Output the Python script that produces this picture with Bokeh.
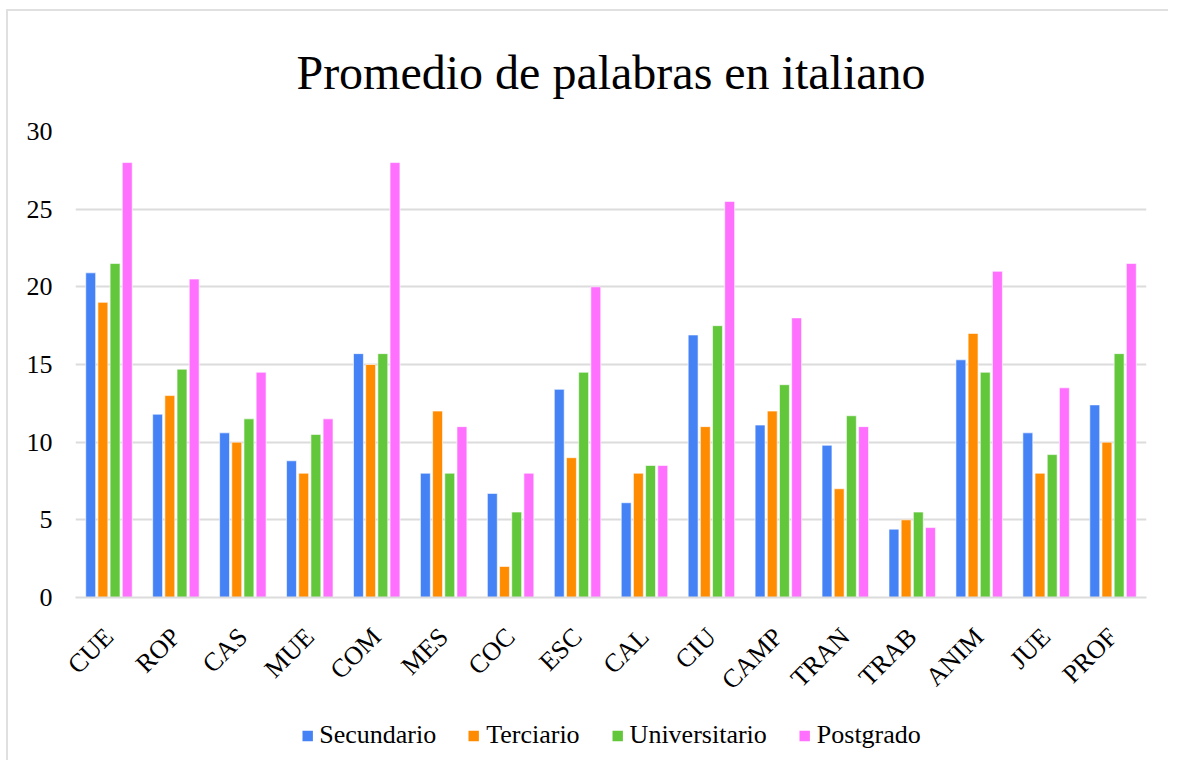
from math import pi
from bokeh.plotting import figure
from bokeh.layouts import column
from bokeh.models import ColumnDataSource, FactorRange, Legend, LegendItem, SingleIntervalTicker
from bokeh.transform import dodge
from bokeh.embed import file_html
from bokeh.resources import INLINE

categories = ["CUE", "ROP", "CAS", "MUE", "COM", "MES", "COC", "ESC", "CAL", "CIU",
              "CAMP", "TRAN", "TRAB", "ANIM", "JUE", "PROF"]
series_names = ["Secundario", "Terciario", "Universitario", "Postgrado"]
secundario = [20.9, 11.8, 10.6, 8.8, 15.7, 8.0, 6.7, 13.4, 6.1, 16.9, 11.1, 9.8, 4.4, 15.3, 10.6, 12.4]
terciario = [19, 13, 10, 8, 15, 12, 2, 9, 8, 11, 12, 7, 5, 17, 8, 10]
universitario = [21.5, 14.7, 11.5, 10.5, 15.7, 8, 5.5, 14.5, 8.5, 17.5, 13.7, 11.7, 5.5, 14.5, 9.2, 15.7]
postgrado = [28, 20.5, 14.5, 11.5, 28, 11, 8, 20, 8.5, 25.5, 18, 11, 4.5, 21, 13.5, 21.5]
colors = ["#4482F6", "#FF8C00", "#63C73C", "#FF70FF"]

source = ColumnDataSource(data=dict(cat=categories, Secundario=secundario, Terciario=terciario,
                                    Universitario=universitario, Postgrado=postgrado))

FONT = "Liberation Serif"

p = figure(x_range=FactorRange(*categories, range_padding=0), y_range=(0, 30),
           frame_width=1071, frame_height=466, output_backend="svg", toolbar_location=None,
           min_border_left=67, min_border_right=22, min_border_top=0, min_border_bottom=113)

p.title.text = "Promedio de palabras en italiano"
p.title.align = "center"
p.title.text_font = FONT
p.title.text_font_size = "48px"
p.title.text_font_style = "normal"
p.title.text_color = "#000000"
p.title.standoff = 65

offsets = [-0.273, -0.091, 0.091, 0.273]
for name, off, col in zip(series_names, offsets, colors):
    p.vbar(x=dodge("cat", off, range=p.x_range), top=name, width=0.148, source=source,
           fill_color=col, line_color="white", line_width=0.6)

p.yaxis.ticker = SingleIntervalTicker(interval=5)
p.yaxis.axis_line_color = None
p.yaxis.major_tick_line_color = None
p.yaxis.minor_tick_line_color = None
p.yaxis.major_label_text_font = FONT
p.yaxis.major_label_text_font_size = "26px"
p.yaxis.major_label_text_color = "#000000"
p.yaxis.major_label_standoff = 17

p.xaxis.axis_line_color = "#dcdcdc"
p.xaxis.axis_line_width = 2
p.xaxis.major_tick_line_color = None
p.xaxis.minor_tick_line_color = None
p.xaxis.major_label_orientation = pi / 4
p.xaxis.major_label_text_font = FONT
p.xaxis.major_label_text_font_size = "26px"
p.xaxis.major_label_text_color = "#000000"
p.xaxis.major_label_standoff = 29

p.xgrid.grid_line_color = None
p.ygrid.grid_line_color = "#dcdcdc"
p.ygrid.grid_line_width = 2
p.outline_line_color = None

# legend strip below the chart (zero-height swatch renderers, used only for the legend)
p2 = figure(width=1160, height=50, output_backend="svg", toolbar_location=None,
            x_range=(0, 1), y_range=(0, 1), min_border=0)
p2.axis.visible = False
p2.grid.visible = False
p2.outline_line_color = None
items = []
for name, col in zip(series_names, colors):
    r = p2.vbar(x=[0.5], top=[0], width=0.01, fill_color=col, line_color=None)
    items.append(LegendItem(label=name, renderers=[r]))
legend = Legend(items=items, orientation="horizontal", location="center",
                label_text_font="'Liberation Serif'", label_text_font_size="26px",
                label_text_color="#000000",
                glyph_width=13, glyph_height=13, label_standoff=6, spacing=31,
                border_line_color=None, background_fill_alpha=0, margin=0, padding=0)
p2.add_layout(legend, "center")

layout = column(p, p2, spacing=0,
                styles={"border-left": "2px solid #e0e0e0", "border-top": "2px solid #e0e0e0",
                        "margin-left": "6px", "margin-top": "9px", "padding-top": "0px"})

open("out.html", "w").write(file_html(layout, INLINE))
